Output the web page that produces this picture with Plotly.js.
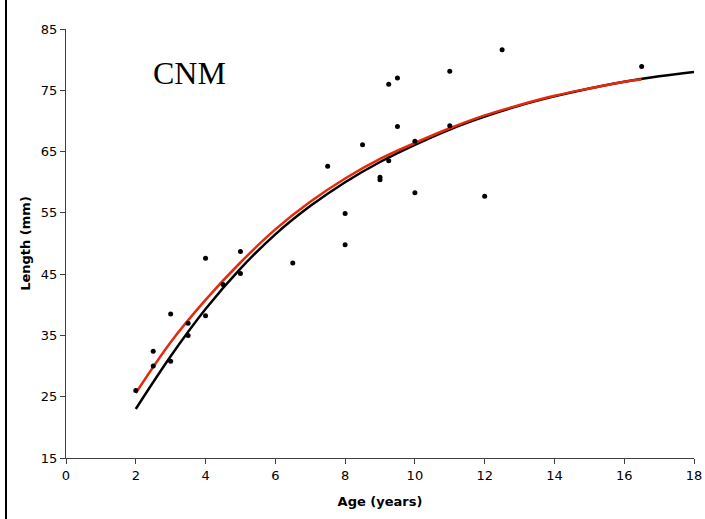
<!DOCTYPE html>
<html>
<head>
<meta charset="utf-8">
<script src="https://cdn.plot.ly/plotly-3.0.1.min.js"></script>
<style>
  html, body { margin: 0; padding: 0; background: #fff; }
  #wrap { position: relative; width: 705px; height: 519px; }
  #edge { position: absolute; left: 5px; top: 0; width: 2px; height: 519px; background: #000; }
  #chart { position: absolute; left: 0; top: 0; width: 705px; height: 519px; }
</style>
</head>
<body>
<div id="wrap">
  <div id="chart"></div>
  <div id="edge"></div>
</div>
<script>
// Observed age / length pairs
const ageObs = [2.0, 2.5, 2.5, 3.0, 3.0, 3.5, 3.5, 4.0, 4.0, 4.5, 5.0, 5.0, 6.5, 7.5, 8.0, 8.0,
                8.5, 9.0, 9.0, 9.25, 9.25, 9.5, 9.5, 10.0, 10.0, 11.0, 11.0, 12.0, 12.5, 16.5];
const lenObs = [26.0, 32.4, 30.0, 38.5, 30.8, 37.0, 35.0, 47.6, 38.2, 43.3, 48.7, 45.1, 46.8, 62.6, 54.9, 49.8,
                66.1, 60.8, 60.4, 76.0, 63.5, 77.0, 69.1, 66.7, 58.3, 78.1, 69.2, 57.7, 81.6, 78.9];

// Growth curve (black)
const ageCurveA = [2, 3, 4, 5, 6, 7, 8, 9, 10, 11, 12, 13, 14, 15, 16, 17, 18];
const lenCurveA = [23.0, 31.6, 39.3, 45.9, 51.5, 56.1, 60.0, 63.3, 66.1, 68.6, 70.7, 72.5, 74.0, 75.3, 76.4, 77.3, 78.0];

// Growth curve (red)
const ageCurveB = [2, 3, 4, 5, 6, 7, 8, 9, 10, 11, 12, 13, 14, 15, 16, 16.5];
const lenCurveB = [25.6, 33.9, 40.8, 46.9, 52.3, 56.8, 60.6, 63.8, 66.4, 68.8, 70.9, 72.6, 74.1, 75.3, 76.4, 76.8];

const xTicks = [0, 2, 4, 6, 8, 10, 12, 14, 16, 18];
const yTicks = [15, 25, 35, 45, 55, 65, 75, 85];

const traces = [
  {
    x: ageCurveA, y: lenCurveA, type: 'scatter', mode: 'lines',
    line: { color: '#000000', width: 2.5, shape: 'spline', smoothing: 1 },
    hoverinfo: 'skip'
  },
  {
    x: ageCurveB, y: lenCurveB, type: 'scatter', mode: 'lines',
    line: { color: '#e52a0c', width: 2.5, shape: 'spline', smoothing: 1 },
    hoverinfo: 'skip'
  },
  {
    x: ageObs, y: lenObs, type: 'scatter', mode: 'markers',
    marker: { color: '#000000', size: 5 }
  }
];

const axisFont = { family: 'DejaVu Sans, Verdana, sans-serif', size: 13, color: '#000' };
const titleFont = { family: 'DejaVu Sans, Verdana, sans-serif', size: 13, color: '#000' };

const layout = {
  width: 705, height: 519,
  margin: { l: 66, r: 11, t: 29, b: 61 },
  paper_bgcolor: '#ffffff', plot_bgcolor: '#ffffff',
  showlegend: false,
  xaxis: {
    range: [0, 18], tickvals: xTicks, ticktext: xTicks.map(String),
    showgrid: false, zeroline: false,
    showline: true, linecolor: '#404040', linewidth: 1.2,
    ticks: 'outside', ticklen: 5, tickcolor: '#404040', tickwidth: 1,
    tickfont: axisFont,
    title: { text: '<b>Age (years)</b>', font: titleFont, standoff: 15 }
  },
  yaxis: {
    range: [15, 85], tickvals: yTicks, ticktext: yTicks.map(String),
    showgrid: false, zeroline: false,
    showline: true, linecolor: '#404040', linewidth: 1.2,
    ticks: 'outside', ticklen: 5, tickcolor: '#404040', tickwidth: 1,
    tickfont: axisFont,
    title: { text: '<b>Length (mm)</b>', font: titleFont, standoff: 7 }
  },
  annotations: [
    {
      x: 3.55, y: 77.9, xref: 'x', yref: 'y', showarrow: false,
      text: 'CNM', xanchor: 'center', yanchor: 'middle',
      font: { family: 'Liberation Serif, Times New Roman, serif', size: 32, color: '#000' }
    }
  ]
};

Plotly.newPlot('chart', traces, layout, { displayModeBar: false, staticPlot: true });
</script>
</body>
</html>
